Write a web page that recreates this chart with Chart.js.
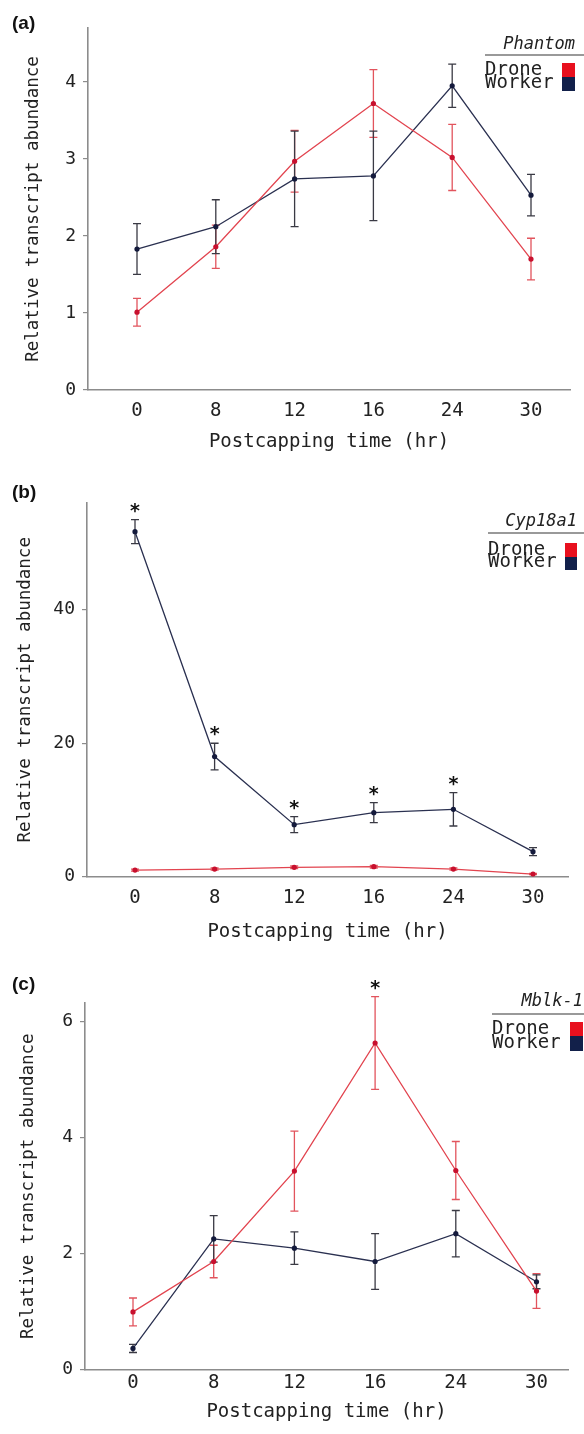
<!DOCTYPE html>
<html>
<head>
<meta charset="utf-8">
<script src="https://cdn.jsdelivr.net/npm/chart.js@4.4.1/dist/chart.umd.min.js"></script>
<style>
  html, body { margin: 0; padding: 0; background: #fff; }
  canvas { display: block; }
</style>
</head>
<body>
<canvas id="chart-a" width="584" height="470"></canvas>
<canvas id="chart-b" width="584" height="480"></canvas>
<canvas id="chart-c" width="584" height="484"></canvas>
<script>
// Postcapping time categories
const hours = ['0', '8', '12', '16', '24', '30'];

// (a) Phantom
const phantomDrone = [1.01, 1.86, 2.97, 3.72, 3.02, 1.70];
const phantomDroneErr = [0.18, 0.28, 0.40, 0.44, 0.43, 0.27];
const phantomWorker = [1.83, 2.12, 2.74, 2.78, 3.95, 2.53];
const phantomWorkerErr = [0.33, 0.35, 0.62, 0.58, 0.28, 0.27];
const phantomTicks = [0, 1, 2, 3, 4];

// (b) Cyp18a1
const cypDrone = [1.0, 1.15, 1.4, 1.5, 1.15, 0.4];
const cypDroneErr = [0.15, 0.15, 0.2, 0.2, 0.15, 0.1];
const cypWorker = [51.7, 18.0, 7.8, 9.6, 10.1, 3.75];
const cypWorkerErr = [1.8, 2.0, 1.2, 1.5, 2.5, 0.6];
const cypWorkerSig = [true, true, true, true, true, false];
const cypTicks = [0, 20, 40];

// (c) Mblk-1
const mblkDrone = [0.99, 1.86, 3.42, 5.63, 3.43, 1.35];
const mblkDroneErr = [0.24, 0.28, 0.69, 0.80, 0.50, 0.30];
const mblkDroneSig = [false, false, false, true, false, false];
const mblkWorker = [0.36, 2.25, 2.09, 1.86, 2.34, 1.51];
const mblkWorkerErr = [0.07, 0.40, 0.28, 0.48, 0.40, 0.12];
const mblkTicks = [0, 2, 4, 6];

const MONO = "'DejaVu Sans Mono', monospace";
const DRONE = '#e2444f';
const DRONE_DOT = '#c8102e';
const DRONE_BOX = '#e8101e';
const WORKER = '#2a3050';
const WORKER_DOT = '#141a3c';
const WORKER_BOX = '#12204a';
const AXIS = '#8c8c8c';

// error bars under the lines, stars above them
const errorBarPlugin = {
  id: 'errorBars',
  beforeDatasetsDraw(chart) {
    const ctx = chart.ctx, xs = chart.scales.x, ys = chart.scales.y;
    chart.data.datasets.forEach(ds => {
      ctx.save();
      ctx.strokeStyle = ds.errColor;
      ctx.lineWidth = 1.3;
      ds.data.forEach((p, i) => {
        const e = ds.errors[i];
        const x = xs.getPixelForValue(p.x);
        const y1 = ys.getPixelForValue(p.y + e);
        const y2 = ys.getPixelForValue(Math.max(p.y - e, 0));
        ctx.beginPath();
        ctx.moveTo(x, y1); ctx.lineTo(x, y2);
        ctx.moveTo(x - 4, y1); ctx.lineTo(x + 4, y1);
        ctx.moveTo(x - 4, y2); ctx.lineTo(x + 4, y2);
        ctx.stroke();
      });
      ctx.restore();
    });
  },
  afterDatasetsDraw(chart) {
    const ctx = chart.ctx, xs = chart.scales.x, ys = chart.scales.y;
    chart.data.datasets.forEach(ds => {
      if (!ds.sig) return;
      ctx.save();
      ctx.fillStyle = '#111';
      ctx.font = 'bold 19px ' + MONO;
      ctx.textAlign = 'center';
      ctx.textBaseline = 'alphabetic';
      ds.data.forEach((p, i) => {
        if (!ds.sig[i]) return;
        const x = xs.getPixelForValue(p.x);
        const y = ys.getPixelForValue(p.y + ds.errors[i]);
        ctx.fillText('*', x, y - 3);
      });
      ctx.restore();
    });
  }
};

// gene legend box at the top right and the panel letter
const geneLegendPlugin = {
  id: 'geneLegend',
  afterDraw(chart, args, opts) {
    const ctx = chart.ctx;
    const sqRight = opts.sqX + opts.sqW;
    ctx.save();
    ctx.fillStyle = '#111';
    ctx.font = 'bold 19px "Liberation Sans", Arial, sans-serif';
    ctx.textAlign = 'left';
    ctx.textBaseline = 'middle';
    ctx.fillText(opts.panel, 12, opts.panelY);

    ctx.fillStyle = '#222';
    ctx.font = 'italic 17px ' + MONO;
    ctx.textAlign = 'right';
    ctx.fillText(opts.gene, sqRight, opts.titleY);
    ctx.strokeStyle = '#777';
    ctx.lineWidth = 1.5;
    ctx.beginPath();
    ctx.moveTo(opts.textX, opts.lineY);
    ctx.lineTo(584, opts.lineY);
    ctx.stroke();

    ctx.font = '19px ' + MONO;
    ctx.textAlign = 'left';
    ctx.fillText('Drone', opts.textX, opts.droneY);
    ctx.fillText('Worker', opts.textX, opts.workerY);
    ctx.fillStyle = DRONE_BOX;
    ctx.fillRect(opts.sqX, opts.droneY - 7, opts.sqW, 14);
    ctx.fillStyle = WORKER_BOX;
    ctx.fillRect(opts.sqX, opts.droneY + 7, opts.sqW, opts.workerY - opts.droneY + 1);
    ctx.restore();
  }
};

function series(label, values, errors, sig, line, dot, errColor) {
  return {
    label: label,
    data: values.map((v, i) => ({x: i, y: v})),
    errors: errors,
    sig: sig,
    errColor: errColor,
    borderColor: line,
    borderWidth: 1.3,
    pointBackgroundColor: dot,
    pointBorderColor: dot,
    pointRadius: 2.6,
    pointBorderWidth: 0,
    tension: 0,
    fill: false
  };
}

function makePanel(id, p) {
  const h = document.getElementById(id).height;
  return new Chart(document.getElementById(id), {
    type: 'line',
    data: {
      datasets: [
        series('Drone', p.drone, p.droneErr, p.droneSig, DRONE, DRONE_DOT, '#e2545d'),
        series('Worker', p.worker, p.workerErr, p.workerSig, WORKER, WORKER_DOT, '#3a3a44')
      ]
    },
    options: {
      responsive: false,
      devicePixelRatio: 1,
      animation: false,
      layout: {padding: {left: 0, right: 584 - p.right, top: p.top, bottom: 0}},
      plugins: {
        legend: {display: false},
        tooltip: {enabled: false},
        geneLegend: p.legend
      },
      scales: {
        x: {
          type: 'linear',
          min: (p.left - p.xStart) / p.xStep,
          max: (p.right - p.xStart) / p.xStep,
          afterBuildTicks: s => { s.ticks = hours.map((_, i) => ({value: i})); },
          afterFit: s => { s.height = h - p.axisY; },
          grid: {display: false, drawTicks: false},
          border: {display: true, color: AXIS, width: 1.6},
          ticks: {
            callback: v => hours[v],
            color: '#222',
            font: {family: MONO, size: 19},
            padding: p.tickPad,
            maxRotation: 0,
            autoSkip: false
          },
          title: {
            display: true,
            text: 'Postcapping time (hr)',
            color: '#222',
            font: {family: MONO, size: 19},
            padding: {top: 0, bottom: p.xTitlePad}
          }
        },
        y: {
          min: 0,
          max: p.yMax,
          afterBuildTicks: s => { s.ticks = p.yTicks.map(v => ({value: v})); },
          afterFit: s => { s.width = p.left; },
          grid: {drawOnChartArea: false, drawTicks: true, tickLength: 5, color: AXIS, lineWidth: 1.2},
          border: {display: true, color: AXIS, width: 1.6},
          ticks: {color: '#222', font: {family: MONO, size: 18}, padding: 7},
          title: {
            display: true,
            text: 'Relative transcript abundance',
            color: '#222',
            font: {family: MONO, size: 17.5},
            padding: {top: p.yTitleX - 10.5, bottom: 0}
          }
        }
      }
    },
    plugins: [errorBarPlugin, geneLegendPlugin]
  });
}

makePanel('chart-a', {
  drone: phantomDrone, droneErr: phantomDroneErr, droneSig: null,
  worker: phantomWorker, workerErr: phantomWorkerErr, workerSig: null,
  yTicks: phantomTicks, yMax: 4.7,
  top: 28, axisY: 390, left: 88, right: 570, xStart: 137, xStep: 78.8,
  tickPad: 9.6, xTitlePad: 16.6, yTitleX: 33,
  legend: {panel: '(a)', panelY: 24, gene: 'Phantom', textX: 485, titleY: 45, lineY: 55, droneY: 70, workerY: 83, sqX: 562, sqW: 13}
});

makePanel('chart-b', {
  drone: cypDrone, droneErr: cypDroneErr, droneSig: null,
  worker: cypWorker, workerErr: cypWorkerErr, workerSig: cypWorkerSig,
  yTicks: cypTicks, yMax: 56,
  top: 33, axisY: 406.7, left: 87, right: 568, xStart: 135, xStep: 79.6,
  tickPad: 10, xTitlePad: 6.9, yTitleX: 25,
  legend: {panel: '(b)', panelY: 23, gene: 'Cyp18a1', textX: 488, titleY: 52, lineY: 63, droneY: 80, workerY: 92, sqX: 565, sqW: 12}
});

makePanel('chart-c', {
  drone: mblkDrone, droneErr: mblkDroneErr, droneSig: mblkDroneSig,
  worker: mblkWorker, workerErr: mblkWorkerErr, workerSig: null,
  yTicks: mblkTicks, yMax: 6.32,
  top: 53, axisY: 419.3, left: 85, right: 568, xStart: 133, xStep: 80.7,
  tickPad: 2.6, xTitlePad: 10.9, yTitleX: 28,
  legend: {panel: '(c)', panelY: 35, gene: 'Mblk-1', textX: 492, titleY: 52, lineY: 64, droneY: 79, workerY: 93, sqX: 570, sqW: 13}
});
</script>
</body>
</html>
